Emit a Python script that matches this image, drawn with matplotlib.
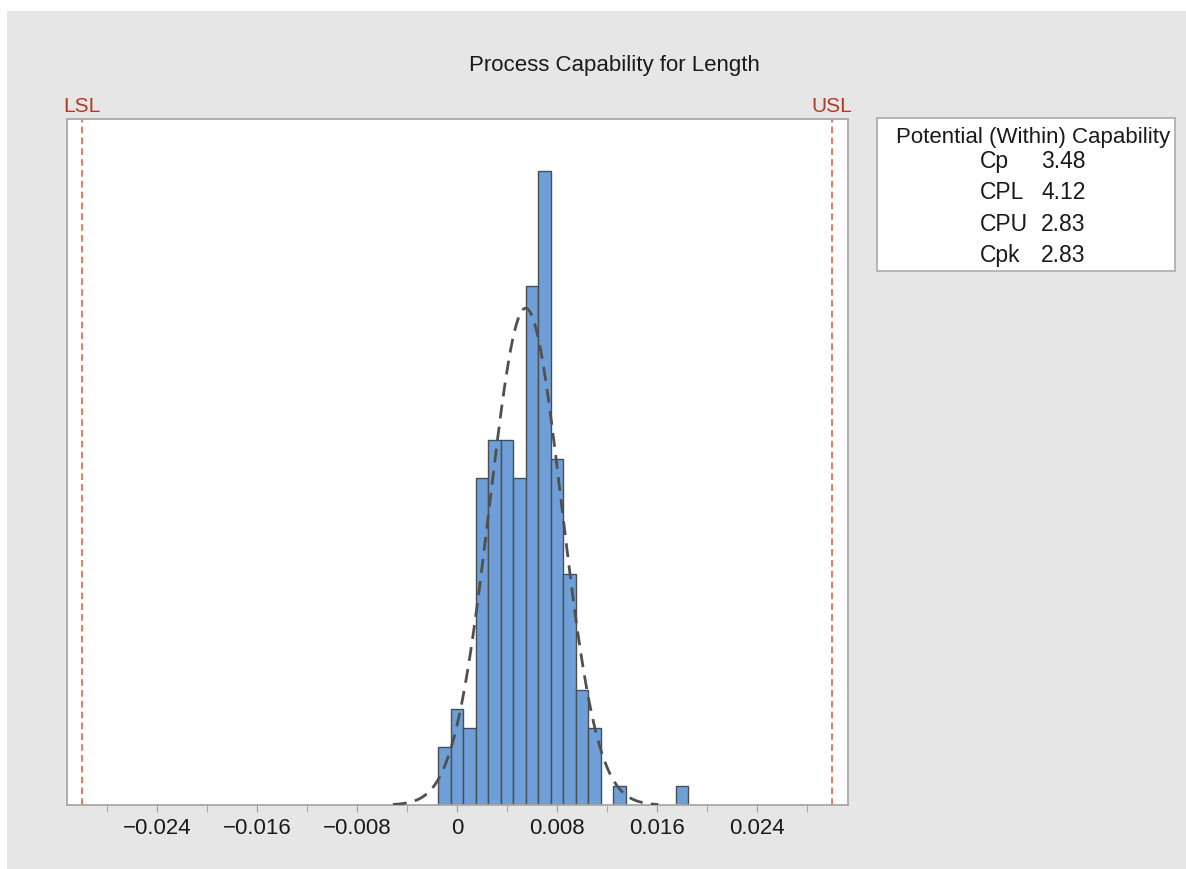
import numpy as np
import matplotlib.pyplot as plt
from matplotlib.patches import Rectangle

plt.rcParams['font.family'] = ['Liberation Sans', 'DejaVu Sans']

# histogram of Length (bin width 0.001)
bin_centers = [-0.001, 0.0, 0.001, 0.002, 0.003, 0.004, 0.005, 0.006,
               0.007, 0.008, 0.009, 0.010, 0.011, 0.013, 0.018]
counts = [3, 5, 4, 17, 19, 19, 17, 27, 33, 18, 12, 6, 4, 1, 1]
bin_width = 0.001

# spec limits and fitted (within) normal
LSL = -0.03
USL = 0.03
mean = 0.0055
sigma = 0.00287

stat_names = ["Cp", "CPL", "CPU", "Cpk"]
stat_values = ["3.48", "4.12", "2.83", "2.83"]

tick_pos = [-0.024, -0.016, -0.008, 0.0, 0.008, 0.016, 0.024]
tick_labels = ["\u22120.024", "\u22120.016", "\u22120.008", "0", "0.008", "0.016", "0.024"]

W, H = 1186, 870


def fx(x):
    return x / W


def fy(y):
    return 1 - y / H


fig = plt.figure(figsize=(W / 100, H / 100), dpi=100)
fig.patch.set_facecolor('#e6e6e6')
# white strips at top and left edge of the scanned image
fig.patches.append(Rectangle((0, fy(12)), 1, 12 / H, transform=fig.transFigure,
                             facecolor='white', edgecolor='none', zorder=0))
fig.patches.append(Rectangle((0, 0), 7 / W, 1, transform=fig.transFigure,
                             facecolor='white', edgecolor='none', zorder=0))

ax = fig.add_axes([fx(67), fy(806), fx(848) - fx(67), fy(120) - fy(806)])
ax.set_facecolor('white')

ax.bar(bin_centers, counts, width=bin_width, color='#6f9fd8',
       edgecolor='#4d4d4d', linewidth=1.0, zorder=2)

xs = np.linspace(mean - 3.7 * sigma, mean + 3.7 * sigma, 300)
ys = sum(counts) * bin_width * np.exp(-0.5 * ((xs - mean) / sigma) ** 2) / (sigma * np.sqrt(2 * np.pi))
ax.plot(xs, ys, color='#505050', lw=2.0, ls=(0, (5, 3)), zorder=3)

for lim, name in [(LSL, "LSL"), (USL, "USL")]:
    ax.axvline(lim, color='#f0603c', lw=1.2, ls=(0, (4, 2.5)), zorder=1)
    ax.text(lim, 1.0 + 8 / (806 - 120), name, transform=ax.get_xaxis_transform(),
            ha='center', va='baseline', fontsize=15, color='#b03a26')

ax.set_xlim(-0.0312, 0.0313)
ax.set_ylim(0, 35.7)
ax.set_xticks(tick_pos)
ax.set_xticklabels(tick_labels, fontsize=16, color='#1a1a1a')
ax.set_xticks(np.arange(-0.028, 0.0281, 0.004), minor=True)
ax.tick_params(axis='x', which='both', length=5, color='#9a9a9a', pad=4)
ax.set_yticks([])
for s in ax.spines.values():
    s.set_color('#a8a8a8')
    s.set_linewidth(1.3)

fig.text(fx(614), fy(71), "Process Capability for Length", ha='center',
         va='baseline', fontsize=16, color='#1a1a1a')

# stats box
fig.patches.append(Rectangle((fx(877), fy(272)), fx(1175) - fx(877), fy(119) - fy(272),
                             transform=fig.transFigure, facecolor='white',
                             edgecolor='#b0b0b0', linewidth=1.3, zorder=1))
fig.text(fx(1033), fy(143), "Potential (Within) Capability", ha='center',
         va='baseline', fontsize=16, color='#1a1a1a')
for i, (n, v) in enumerate(zip(stat_names, stat_values)):
    yb = 168 + i * 31.3
    fig.text(fx(980), fy(yb), n, ha='left', va='baseline', fontsize=16.5, color='#1a1a1a')
    fig.text(fx(1041), fy(yb), v, ha='left', va='baseline', fontsize=16.5, color='#1a1a1a')

fig.savefig("out.png", dpi=100, facecolor=fig.get_facecolor())
